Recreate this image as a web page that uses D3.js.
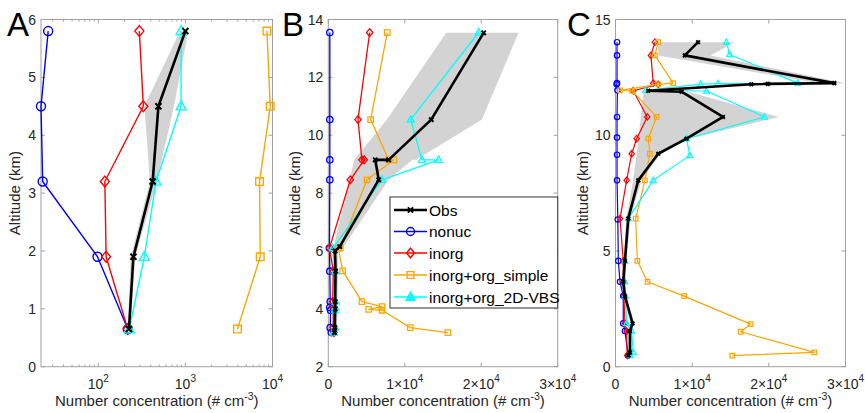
<!DOCTYPE html>
<html><head><meta charset="utf-8">
<script src="https://cdn.jsdelivr.net/npm/d3@7"></script>
<style>body{margin:0;background:#fff;} svg{display:block;font-family:"Liberation Sans",Arial,sans-serif;}</style>
</head><body><svg id="c" width="865" height="413"></svg>
<script>
// ---------------- DATA ----------------
const seriesNames = ["Obs", "nonuc", "inorg", "inorg+org_simple", "inorg+org_2D-VBS"];
const panelLetters = ["A", "B", "C"];
const yTicksA = [0, 1, 2, 3, 4, 5, 6];
const yTicksB = [2, 4, 6, 8, 10, 12, 14];
const yTicksC = [0, 5, 10, 15];
const xTicksA = [100, 1000, 10000];
const xTicksBC = [0, 10000, 20000, 30000];

// Panel A (log x)
const A_obsAlt = [0.65, 1.9, 3.2, 4.5, 5.8];
const A_obs    = [225, 253, 421, 490, 1000];
const A_obsLo  = [218, 236, 392, 338, 869];
const A_obsHi  = [233, 266, 470, 740, 1082];
const A_modAlt = [0.65, 1.9, 3.2, 4.5, 5.8];
const A_nonuc  = [218, 98, 23, 22, 26.6];
const A_inorg  = [218, 123, 119, 329, 296];
const A_simple = [3960, 7230, 7100, 9420, 8630];
const A_vbs    = [227, 338, 460, 893, 893];

// Panel B
const B_obsAlt = [13.54, 10.54, 9.15, 9.15, 8.46, 6.15, 6.0, 5.3, 4.25, 4.0, 3.35, 3.18];
const B_obs    = [20310, 13460, 7890, 6140, 6590, 1490, 880, 950, 900, 900, 850, 800];
const B_obsLo  = [15420, 7670, 3400, 3400, 2800, 700, 500, 600, 600, 600, 550, 500];
const B_obsHi  = [24880, 20090, 11500, 11000, 7900, 2000, 1250, 1300, 1200, 1200, 1150, 1100];
const B_nonucAlt = [13.55, 10.54, 9.15, 8.46, 6.1, 5.3, 4.25, 4.05, 3.95, 3.35, 3.18];
const B_nonuc    = [200, 200, 200, 200, 150, 200, 250, 200, 300, 250, 400];
const B_inorgAlt = [13.55, 10.54, 9.15, 9.15, 8.46, 6.1, 5.3, 4.25, 4.05, 3.35, 3.18];
const B_inorg    = [5410, 3880, 4400, 4700, 2880, 150, 650, 570, 650, 650, 740];
const B_simpleAlt = [13.55, 10.54, 9.15, 9.15, 8.46, 6.1, 6.1, 5.31, 4.25, 4.08, 3.98, 3.95, 3.35, 3.18];
const B_simple    = [7710, 5540, 7890, 8590, 5060, 1570, 1300, 1880, 4400, 7020, 5280, 7020, 10720, 15640];
const B_vbsAlt = [13.55, 10.54, 9.15, 9.15, 8.46, 6.1, 5.3, 4.25, 4.05, 3.95, 3.35, 3.18];
const B_vbs    = [19660, 10770, 12250, 14430, 7020, 610, 920, 970, 920, 880, 920, 700];

// Panel C
const C_obsAlt = [14.02, 13.45, 12.25, 12.22, 12.2, 11.92, 11.88, 10.79, 9.85, 9.2, 8.05, 6.4, 4.57, 3.67, 3.05, 1.87, 1.54, 0.62, 0.48];
const C_obs    = [10770, 9040, 28540, 19870, 17710, 4270, 8610, 14020, 9260, 5570, 2970, 1660, 1230, 1010, 1230, 2230, 1890, 1890, 1660];
const C_obsLo  = [5570, 5570, 26500, 18500, 16500, 3700, 3650, 3300, 3000, 2760, 2300, 1400, 1050, 850, 1050, 2000, 1700, 1700, 1500];
const C_obsHi  = [15540, 12400, 30000, 21000, 19000, 4800, 9500, 21300, 9600, 5900, 3400, 1950, 1450, 1200, 1450, 2450, 2100, 2100, 1850];
const C_nonucAlt = [14.02, 13.45, 12.25, 12.2, 11.94, 10.79, 9.9, 9.16, 8.05, 6.36, 4.57, 3.67, 3.05, 1.87, 1.54, 0.48];
const C_nonuc    = [200, 200, 200, 150, 250, 200, 200, 200, 200, 300, 370, 590, 1010, 1010, 1230, 1660];
const C_inorgAlt = [14.02, 13.45, 12.25, 12.2, 11.92, 10.79, 9.85, 9.2, 8.05, 6.4, 4.57, 3.67, 3.05, 1.87, 1.54, 0.48];
const C_inorg    = [5140, 4620, 4920, 5570, 2310, 4140, 2760, 2110, 1450, 590, 1010, 1010, 1100, 1230, 1450, 1520];
const C_simpleAlt = [14.02, 13.45, 12.25, 12.2, 11.94, 11.92, 10.79, 9.85, 9.2, 8.05, 6.4, 4.57, 3.67, 3.05, 1.84, 1.51, 0.62, 0.48];
const C_simple    = [5570, 5140, 7520, 5570, 590, 2180, 5360, 4270, 4490, 3840, 2630, 2850, 4180, 8950, 17620, 16320, 25940, 15240];
const C_vbsAlt = [14.02, 13.49, 12.25, 12.23, 12.21, 11.94, 11.91, 10.79, 9.85, 9.13, 8.05, 6.4, 4.57, 3.67, 3.05, 1.87, 1.54, 0.62, 0.48];
const C_vbs    = [14460, 14890, 23770, 13370, 11120, 3930, 11860, 19440, 9260, 9690, 4920, 1660, 1230, 1230, 1300, 1450, 2100, 2310, 1890];

// ---------------- DRAWING ----------------
const svg = d3.select("#c");
const TOP = 19.5, BOT = 366.7;
const colors = ["#000000", "#0000ff", "#ff0000", "#ffa500", "#00ffff"];

// custom marker shapes (size = radius)
const mk = {
  circle: {draw(c, r){ c.moveTo(r,0); c.arc(0,0,r,0,2*Math.PI); c.closePath(); }},
  diamond: {draw(c, r){ c.moveTo(0,-1.2*r); c.lineTo(r,0); c.lineTo(0,1.2*r); c.lineTo(-r,0); c.closePath(); }},
  square: {draw(c, r){ const s=0.85*r; c.moveTo(-s,-s); c.lineTo(s,-s); c.lineTo(s,s); c.lineTo(-s,s); c.closePath(); }},
  triangle: {draw(c, r){ c.moveTo(0,-1.2*r); c.lineTo(1.1*r,0.8*r); c.lineTo(-1.1*r,0.8*r); c.closePath(); }},
  times: {draw(c, r){ const s=0.75*r; c.moveTo(-s,-s); c.lineTo(s,s); c.moveTo(s,-s); c.lineTo(-s,s); }}
};
const markers = ["times", "circle", "diamond", "square", "triangle"];

function zip(alt, val){ return alt.map((h,i)=>({h, v: val[i]})); }

const panels = [
  {letter: panelLetters[0], x0: 41, x1: 272.5, log: true, xdom: [22, 1e4], ydom: [0, 6], yticks: yTicksA, xticks: xTicksA,
   letterX: 7, ylabX: 20, r: 4.5, lw: 1.4,
   band: A_obsAlt.map((h,i)=>({h, lo: A_obsLo[i], hi: A_obsHi[i]})),
   series: [zip(A_obsAlt, A_obs), zip(A_modAlt, A_nonuc), zip(A_modAlt, A_inorg), zip(A_modAlt, A_simple), zip(A_modAlt, A_vbs)]},
  {letter: panelLetters[1], x0: 328.3, x1: 557.7, log: false, xdom: [0, 3e4], ydom: [2, 14], yticks: yTicksB, xticks: xTicksBC,
   letterX: 282, ylabX: 300, r: 3.2, lw: 1.3,
   band: B_obsAlt.map((h,i)=>({h, lo: B_obsLo[i], hi: B_obsHi[i]})),
   series: [zip(B_obsAlt, B_obs), zip(B_nonucAlt, B_nonuc), zip(B_inorgAlt, B_inorg), zip(B_simpleAlt, B_simple), zip(B_vbsAlt, B_vbs)]},
  {letter: panelLetters[2], x0: 615.5, x1: 845.5, log: false, xdom: [0, 3e4], ydom: [0, 15], yticks: yTicksC, xticks: xTicksBC,
   letterX: 567, ylabX: 588, r: 2.7, lw: 1.2,
   band: C_obsAlt.map((h,i)=>({h, lo: C_obsLo[i], hi: C_obsHi[i]})),
   series: [zip(C_obsAlt, C_obs), zip(C_nonucAlt, C_nonuc), zip(C_inorgAlt, C_inorg), zip(C_simpleAlt, C_simple), zip(C_vbsAlt, C_vbs)]}
];

const axisCol = "#a0a0a0", textCol = "#262626";

panels.forEach((p, pi) => {
  const xs = (p.log ? d3.scaleLog() : d3.scaleLinear()).domain(p.xdom).range([p.x0, p.x1]);
  const ys = d3.scaleLinear().domain(p.ydom).range([BOT, TOP]);
  const g = svg.append("g");

  // axes box (drawn beneath the data)
  const ax = g.append("g");
  ax.append("rect").attr("x", p.x0).attr("y", TOP).attr("width", p.x1 - p.x0).attr("height", BOT - TOP)
    .attr("fill", "none").attr("stroke", axisCol).attr("stroke-width", 1);
  const tl = 4;
  p.yticks.forEach(t => {
    const y = ys(t);
    ax.append("line").attr("x1", p.x0).attr("x2", p.x0 + tl).attr("y1", y).attr("y2", y).attr("stroke", axisCol);
    ax.append("line").attr("x1", p.x1).attr("x2", p.x1 - tl).attr("y1", y).attr("y2", y).attr("stroke", axisCol);
    ax.append("text").attr("x", p.x0 - 5).attr("y", y).attr("dy", "0.36em")
      .attr("text-anchor", "end").attr("font-size", 14).attr("fill", textCol).text(t);
  });
  p.xticks.forEach(t => {
    const x = xs(t);
    ax.append("line").attr("x1", x).attr("x2", x).attr("y1", BOT).attr("y2", BOT - tl).attr("stroke", axisCol);
    ax.append("line").attr("x1", x).attr("x2", x).attr("y1", TOP).attr("y2", TOP + tl).attr("stroke", axisCol);
    const tx = ax.append("text").attr("x", x).attr("y", 389).attr("text-anchor", "middle")
      .attr("font-size", 14).attr("fill", textCol);
    if (p.log) {
      tx.append("tspan").text("10");
      tx.append("tspan").attr("dy", -7).attr("font-size", 10).text(Math.round(Math.log10(t)));
    } else if (t === 0) {
      tx.text("0");
    } else {
      tx.append("tspan").text(`${t / 1e4}×10`);
      tx.append("tspan").attr("dy", -7).attr("font-size", 10).text("4");
    }
  });
  if (p.log) {
    const minors = [];
    [10, 100, 1000].forEach(dec => { for (let k = 2; k <= 9; k++) { const v = dec * k; if (v > p.xdom[0] && v < p.xdom[1]) minors.push(v); } });
    minors.forEach(t => {
      const x = xs(t);
      ax.append("line").attr("x1", x).attr("x2", x).attr("y1", BOT).attr("y2", BOT - 2.2).attr("stroke", axisCol);
      ax.append("line").attr("x1", x).attr("x2", x).attr("y1", TOP).attr("y2", TOP + 2.2).attr("stroke", axisCol);
    });
  }
  const xt = ax.append("text").attr("x", (p.x0 + p.x1) / 2).attr("y", 406).attr("text-anchor", "middle")
    .attr("font-size", 15).attr("fill", textCol);
  xt.append("tspan").text("Number concentration (# cm");
  xt.append("tspan").attr("dy", -6).attr("font-size", 10.5).text("-3");
  xt.append("tspan").attr("dy", 6).text(")");
  ax.append("text").attr("transform", `translate(${p.ylabX},${(TOP + BOT) / 2}) rotate(-90)`)
    .attr("text-anchor", "middle").attr("font-size", 15).attr("fill", textCol).text("Altitude (km)");

  const plot = g.append("g");
  plot.append("path").datum(p.band)
    .attr("d", d3.area().y(d=>ys(d.h)).x0(d=>xs(d.lo)).x1(d=>xs(d.hi)))
    .attr("fill", "#d3d3d3").attr("stroke", "none");

  const line = d3.line().x(d=>xs(d.v)).y(d=>ys(d.h));
  const order = [1, 2, 3, 4, 0];
  order.forEach(si => {
    const data = p.series[si];
    const isObs = si === 0;
    plot.append("path").datum(data).attr("d", line)
      .attr("fill", "none").attr("stroke", colors[si])
      .attr("stroke-width", isObs ? 2.6 : p.lw).attr("stroke-linejoin", "round");
    const sym = d3.symbol().type(mk[markers[si]]).size(isObs ? p.r * 0.9 : p.r);
    plot.selectAll(null).data(data).enter().append("path")
      .attr("transform", d => `translate(${xs(d.v)},${ys(d.h)})`)
      .attr("d", sym)
      .attr("fill", "none")
      .attr("stroke", colors[si]).attr("stroke-width", isObs ? 2 : p.lw);
  });

  svg.append("text").attr("x", p.letterX).attr("y", 36).attr("font-size", 33).attr("fill", "#000").text(p.letter);
});

// legend in panel B
const lg = svg.append("g");
const lx = 390, ly = 197, lw = 167.7, lh = 111;
lg.append("rect").attr("x", lx).attr("y", ly).attr("width", lw).attr("height", lh)
  .attr("fill", "#fff").attr("stroke", "#303030").attr("stroke-width", 1);
const rowY = [210, 231.5, 253, 275, 297];
seriesNames.forEach((name, i) => {
  const y = rowY[i];
  lg.append("line").attr("x1", lx + 4).attr("x2", lx + 37).attr("y1", y).attr("y2", y)
    .attr("stroke", colors[i]).attr("stroke-width", i === 0 ? 2.6 : 1.4);
  lg.append("path").attr("transform", `translate(${lx + 20.5},${y})`)
    .attr("d", d3.symbol().type(mk[markers[i]]).size(i === 0 ? 3.5 : 4))
    .attr("fill", i === 4 ? colors[4] : "none").attr("stroke", colors[i]).attr("stroke-width", i === 0 ? 2 : 1.4);
  lg.append("text").attr("x", lx + 39).attr("y", y).attr("dy", "0.36em")
    .attr("font-size", 15.5).attr("fill", "#000").text(name);
});
</script>
</body></html>
